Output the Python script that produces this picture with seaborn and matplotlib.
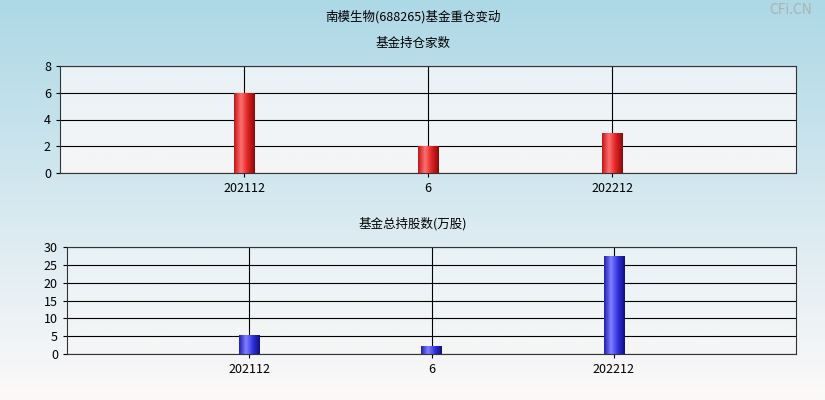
import numpy as np
import pandas as pd
import seaborn as sns
import matplotlib.pyplot as plt
from matplotlib.colors import LinearSegmentedColormap

plt.rcParams['font.family'] = ['Noto Sans CJK SC', 'DejaVu Sans']

periods = ['202112', '6', '202212']
fund_count = [6, 2, 3]
fund_shares = [5.3, 2.2, 27.5]

fig = plt.figure(figsize=(8.25, 4.0), dpi=100)

# background gradient
bg = fig.add_axes([0, 0, 1, 1], zorder=-10)
grad = np.linspace(0, 1, 256).reshape(-1, 1)
bg_cmap = LinearSegmentedColormap.from_list('bg', ['#add8e6', '#fdf9f9'])
bg.imshow(grad, aspect='auto', cmap=bg_cmap, extent=[0, 1, 0, 1], origin='upper')
bg.axis('off')

fig.text(0.5, 1 - 17 / 400, '南模生物(688265)基金重仓变动', ha='center', va='center', fontsize=9)
fig.text(0.5, 1 - 43 / 400, '基金持仓家数', ha='center', va='center', fontsize=9)
fig.text(0.5, 1 - 224 / 400, '基金总持股数(万股)', ha='center', va='center', fontsize=9)
fig.text(0.985, 1 - 10 / 400, 'CFi.CN', ha='right', va='center', fontsize=10, color='#b0b0b0')

red_cmap = LinearSegmentedColormap.from_list('r', ['#c01818', '#ff7070', '#e02020', '#8a0a0a'])
blue_cmap = LinearSegmentedColormap.from_list('b', ['#2020b0', '#8080ff', '#3030e0', '#10107a'])


def panel(rect, values, ylim, yticks, cmap):
    ax = fig.add_axes(rect)
    df = pd.DataFrame({'period': periods, 'value': values})
    sns.barplot(data=df, x='period', y='value', ax=ax, width=0.11, color='red', zorder=3)
    ax.set_xlim(-1, 3)
    ax.set_ylim(*ylim)
    ax.set_yticks(yticks)
    ax.set_xlabel('')
    ax.set_ylabel('')
    ax.set_facecolor('none')
    ax.imshow(grad, aspect='auto', cmap=LinearSegmentedColormap.from_list('a', ['#e8f2f6', '#f6f6f6']),
              extent=[-1, 3, ylim[0], ylim[1]], origin='upper', zorder=0)
    ax.grid(True, color='black', linewidth=0.8, zorder=1)
    ax.set_axisbelow(True)
    for p in ax.patches:
        x0, w, h = p.get_x(), p.get_width(), p.get_height()
        im = ax.imshow(np.linspace(0, 1, 64).reshape(1, -1), aspect='auto', cmap=cmap,
                       extent=[x0, x0 + w, 0, h], zorder=4)
        im.set_clip_path(p)
    ax.set_xlim(-1, 3)
    ax.set_ylim(*ylim)
    ax.tick_params(labelsize=9, length=3)
    for s in ax.spines.values():
        s.set_color('#333333')
    return ax


panel([60 / 825, 1 - 173 / 400, 736 / 825, 107 / 400], fund_count, (0, 8), [0, 2, 4, 6, 8], red_cmap)
panel([67 / 825, 1 - 354 / 400, 729 / 825, 107 / 400], fund_shares, (0, 30), [0, 5, 10, 15, 20, 25, 30], blue_cmap)

fig.savefig('out.png', dpi=100)
